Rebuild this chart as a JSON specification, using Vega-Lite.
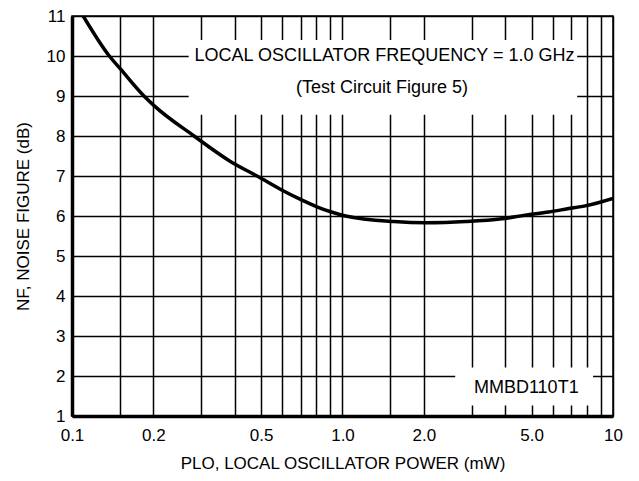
{
  "$schema": "https://vega.github.io/schema/vega-lite/v6.json",
  "width": 541,
  "height": 400,
  "autosize": "none",
  "padding": {"left": 72, "top": 16, "right": 26, "bottom": 65},
  "background": "white",
  "config": {
    "font": "Liberation Sans Narrow, Liberation Sans, Arial, sans-serif",
    "view": {"stroke": "black", "strokeWidth": 1.5},
    "axis": {
      "domainColor": "black",
      "domainWidth": 3.5,
      "gridColor": "black",
      "gridWidth": 1.5,
      "gridOpacity": 1,
      "ticks": false,
      "labelColor": "black",
      "labelFontSize": 17,
      "labelOverlap": false,
      "labelFont": "Liberation Sans Narrow, Liberation Sans, Arial, sans-serif",
      "titleFont": "Liberation Sans Narrow, Liberation Sans, Arial, sans-serif",
      "titleFontSize": 17,
      "titleFontWeight": "normal",
      "titleColor": "black"
    }
  },
  "datasets": {
    "curve": [
      {"power": 0.11, "nf": 11.0},
      {"power": 0.1374, "nf": 10.0},
      {"power": 0.1513, "nf": 9.67},
      {"power": 0.1845, "nf": 9.0},
      {"power": 0.201, "nf": 8.76},
      {"power": 0.2825, "nf": 8.0},
      {"power": 0.3838, "nf": 7.37},
      {"power": 0.4888, "nf": 6.98},
      {"power": 0.5959, "nf": 6.65},
      {"power": 0.6961, "nf": 6.42},
      {"power": 0.8037, "nf": 6.23},
      {"power": 0.9103, "nf": 6.1},
      {"power": 1.0262, "nf": 6.0},
      {"power": 1.5485, "nf": 5.86},
      {"power": 2.0316, "nf": 5.83},
      {"power": 2.859, "nf": 5.86},
      {"power": 3.8837, "nf": 5.93},
      {"power": 4.7241, "nf": 6.02},
      {"power": 5.7839, "nf": 6.1},
      {"power": 6.7923, "nf": 6.18},
      {"power": 7.9766, "nf": 6.26},
      {"power": 10.0, "nf": 6.44}
    ],
    "boxes": [
      {"x1": 0.27, "x2": 7.37, "y1": 8.53, "y2": 10.4},
      {"x1": 2.61, "x2": 8.44, "y1": 1.26, "y2": 2.21}
    ],
    "notes": [
      {"px": 1.43, "py": 10.0, "label": "LOCAL OSCILLATOR FREQUENCY = 1.0 GHz"},
      {"px": 1.4, "py": 9.2, "label": "(Test Circuit Figure 5)"},
      {"px": 4.78, "py": 1.7, "label": "MMBD110T1"}
    ]
  },
  "layer": [
    {
      "data": {"name": "boxes"},
      "mark": {"type": "rect", "fill": "white", "stroke": null},
      "encoding": {
        "x": {
          "field": "x1",
          "type": "quantitative",
          "scale": {"type": "log", "domain": [0.1, 10], "nice": false},
          "axis": {
            "values": [0.1, 0.15, 0.2, 0.3, 0.4, 0.5, 0.6, 0.7, 0.8, 0.9, 1, 1.5, 2, 3, 4, 5, 6, 7, 8, 9, 10],
            "tickCount": 40,
            "labelExpr": "indexof([0.1, 0.2, 0.5, 1, 2, 5, 10], datum.value) >= 0 ? (datum.value >= 10 ? '10' : format(datum.value, '.1f')) : ''",
            "labelPadding": 11,
            "labelFlush": false,
            "title": "PLO, LOCAL OSCILLATOR POWER (mW)",
            "titlePadding": 12
          }
        },
        "x2": {"field": "x2"},
        "y": {
          "field": "y1",
          "type": "quantitative",
          "scale": {"domain": [1, 11], "nice": false, "zero": false},
          "axis": {
            "values": [1, 2, 3, 4, 5, 6, 7, 8, 9, 10, 11],
            "tickCount": 20,
            "format": "d",
            "labelPadding": 7,
            "title": "NF, NOISE FIGURE (dB)",
            "titlePadding": 14
          }
        },
        "y2": {"field": "y2"}
      }
    },
    {
      "data": {"name": "curve"},
      "mark": {"type": "line", "color": "black", "strokeWidth": 3.5, "interpolate": "monotone", "clip": true},
      "encoding": {
        "x": {"field": "power", "type": "quantitative"},
        "y": {"field": "nf", "type": "quantitative"}
      }
    },
    {
      "data": {"name": "notes"},
      "mark": {"type": "text", "fontSize": 18, "color": "black", "align": "center", "baseline": "middle"},
      "encoding": {
        "x": {"field": "px", "type": "quantitative"},
        "y": {"field": "py", "type": "quantitative"},
        "text": {"field": "label"}
      }
    }
  ]
}
